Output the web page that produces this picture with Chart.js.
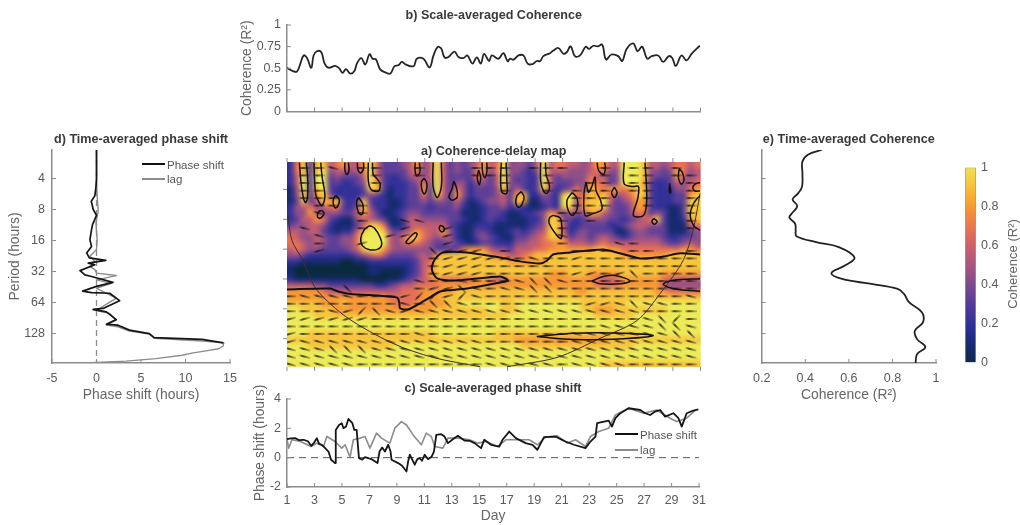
<!DOCTYPE html>
<html>
<head>
<meta charset="utf-8">
<title>Coherence-delay map</title>
<script src="https://cdn.jsdelivr.net/npm/chart.js"></script>
<style>
body{ margin:0; background:#fff; width:1020px; height:525px; overflow:hidden; position:relative; font-family:"Liberation Sans",Arial,sans-serif; }
canvas{ position:absolute; filter:blur(0.45px); }
.legtext{ position:absolute; font-size:11.5px; color:#555; line-height:14px; filter:blur(0.3px); }
.legline{ position:absolute; height:2px; }
#cbtitle{ position:absolute; left:960px; top:256px; width:106px; text-align:center; font-size:13px; line-height:16px; color:#666; transform:rotate(-90deg); filter:blur(0.3px); }
</style>
</head>
<body>

<div class="legline" style="left:142px;top:163px;width:23px;background:#111"></div>
<div class="legtext" style="left:167px;top:158px">Phase shift</div>
<div class="legline" style="left:142px;top:178px;width:23px;background:#8c8c8c"></div>
<div class="legtext" style="left:167px;top:172px">lag</div>
<div class="legline" style="left:615px;top:433px;width:23px;background:#111"></div>
<div class="legtext" style="left:640px;top:428px">Phase shift</div>
<div class="legline" style="left:615px;top:449px;width:23px;background:#8c8c8c"></div>
<div class="legtext" style="left:640px;top:443px">lag</div>
<div id="cbtitle">Coherence (R²)</div>

<script>
// ---- tick labels
var dayTicksStep = 2;
var octaveTicks = [2, 3, 4, 5, 6, 7];          // log2 of period, 4h .. 128h
var octaveMin = 1.08, octaveMax = 7.95;

// ---- b) scale-averaged coherence
var bDays = [1,1.36,1.72,1.97,2.21,2.45,2.76,2.93,3.17,3.49,3.73,4.02,4.5,4.79,5.03,5.28,5.59,5.9,6.07,6.39,6.68,6.99,7.21,7.45,7.76,8.13,8.49,8.8,9.09,9.33,9.62,10.18,10.42,10.9,11.34,11.63,11.92,12.18,12.43,12.71,13.15,13.44,13.8,14.09,14.45,14.77,15.06,15.3,15.66,15.86,16.34,16.7,17.01,17.18,17.43,17.79,18.15,18.46,18.8,19.12,19.36,19.6,20.08,20.32,20.69,21.05,21.29,21.58,21.89,22.26,22.67,22.91,23.22,23.54,23.87,24.14,24.55,25.03,25.32,25.64,26.12,26.43,26.77,27.13,27.45,27.93,28.29,28.7,28.95,29.21,29.62,29.99,30.35,30.95];
var bCoherence = [.506,.472,.461,.554,.648,.618,.506,.648,.697,.685,.554,.506,.528,.498,.446,.491,.438,.472,.554,.618,.543,.663,.61,.603,.487,.453,.438,.524,.536,.573,.543,.524,.61,.61,.509,.648,.745,.73,.625,.629,.693,.629,.618,.648,.554,.625,.554,.667,.584,.648,.61,.674,.581,.61,.599,.648,.648,.554,.547,.584,.581,.64,.674,.704,.734,.667,.685,.753,.64,.648,.749,.723,.76,.753,.772,.603,.659,.64,.584,.723,.787,.697,.749,.61,.64,.648,.573,.64,.618,.528,.648,.592,.667,.76];

// ---- c) scale-averaged phase shift
var cShiftDays = [1,1.29,1.6,1.89,2.21,2.52,2.76,2.98,3.17,3.34,3.54,3.78,4.02,4.21,4.5,4.55,4.79,4.99,5.11,5.3,5.47,5.76,5.9,6.07,6.24,6.48,6.68,6.97,7.16,7.59,7.74,7.93,8.13,8.37,8.54,8.61,9.09,9.38,9.7,9.82,9.94,10.3,10.49,10.66,10.83,11.02,11.27,11.51,11.7,11.87,12.23,12.47,12.72,13.08,13.44,13.92,14.29,14.65,15.13,15.36,15.85,16.45,16.69,17.18,17.66,18.38,18.87,19.23,19.71,20.56,20.92,21.28,21.89,22.73,23.09,23.46,23.58,24.42,24.66,24.91,25.27,25.87,26.72,27.08,27.44,27.8,28.17,28.53,29.13,29.5,29.74,30.1,30.58,30.95];
var cShift = [1.26,1.31,1.33,1.19,1.22,1.12,.81,1.03,1.33,.94,.88,.65,.42,-.14,-.37,1.89,2.23,2.35,2.01,2.12,2.64,2.35,1.89,1.89,-.03,-.14,.04,-.05,-.1,-.37,.42,.69,.42,.88,.42,-.14,-.37,-.55,-.94,-.26,.2,-.48,-.1,-.03,-.21,.2,-.1,.04,.42,1.55,1.6,1.44,.99,1.26,1.49,1.17,1.15,.99,.65,1.22,.88,.76,1.22,1.78,1.33,.99,.88,.54,1.4,1.44,1.26,1.1,.88,.65,1.1,1.44,2.35,2.53,2.12,2.69,3.03,3.37,3.25,3.03,2.91,3.14,3.25,2.8,3.03,2.69,2.12,3.03,3.21,3.3];
var cLagDays = [1,1.12,1.36,1.97,2.76,3.17,3.66,3.9,4.5,4.99,5.23,5.59,5.83,6.31,6.68,7.04,7.52,7.88,8.49,8.85,9.33,9.7,10.18,10.78,11.14,11.51,11.75,12.35,12.72,13.44,14.29,14.89,15.49,16.33,16.93,17.78,18.63,19.23,19.83,20.68,21.4,22.01,22.73,23.09,23.7,24.42,24.91,25.87,26.96,27.92,28.89,29.37,30.1,30.82];
var cLag = [1.26,.65,1.22,1.1,.76,.99,.76,1.44,1.1,.65,.88,.04,1.22,1.33,1.44,.65,1.67,1.33,.99,2.01,2.46,2.23,1.55,.88,1.67,1.44,.76,.65,1.33,1.33,1.22,.99,1.1,.76,1.22,1.22,1.22,.88,1.4,1.49,.99,1.22,.76,1.44,1.78,2.01,2.91,3.37,3.03,3.25,2.69,2.46,2.69,3.3];

// ---- d) time-averaged phase shift
var dShiftOctave = [1.05,1.48,2,2.29,2.56,2.73,3,3.19,3.48,3.65,3.97,4.19,4.4,4.56,4.64,4.73,4.78,4.97,5.11,5.16,5.35,5.48,5.63,5.68,5.7,5.94,6.19,6.22,6.3,6.55,6.7,6.73,6.89,7,7.13,7.19,7.3];
var dShift = [0,0,0,-.07,-.19,-.59,-.37,0,-.44,-.56,-.74,-.56,-1.11,-.81,1.04,-.93,-.19,-1.85,-1.3,-.56,1.85,0,-1.56,-.56,1.48,2.59,.74,-.37,1.11,2.22,1.11,2.41,3.7,5.93,6.48,11.85,14.26];
var dLagOctave = [1.05,2,2.56,3.05,3.43,3.97,4.29,4.51,4.67,4.84,4.94,5.05,5.13,5.27,5.38,5.54,5.86,6.19,6.24,6.35,6.57,6.73,6.78,6.92,7.02,7.15,7.24,7.3,7.41,7.49,7.56,7.63,7.7,7.81,7.89,7.93,7.97];
var dLag = [0,0,.07,.19,-.07,.07,0,-.74,-.19,-.74,-.19,0,2.22,0,1.67,0,2.22,.37,-.37,1.48,2.22,1.11,2.41,3.7,5.93,6.48,11.85,14.3,14.2,13.7,12.3,10.7,9.63,6.67,3.33,0,-3.7];

// ---- e) time-averaged coherence
var eOctave = [1.07,1.23,1.45,1.83,2.26,2.48,2.67,2.89,3.13,3.26,3.45,3.67,3.86,4.05,4.21,4.55,4.8,5.05,5.24,5.4,5.56,5.72,5.99,6.32,6.64,6.91,7.18,7.43,7.67,7.97];
var eCoherence = [.477,.412,.387,.387,.385,.367,.342,.363,.338,.327,.353,.356,.36,.45,.554,.626,.584,.52,.569,.704,.824,.853,.876,.936,.94,.903,.913,.951,.913,.906];

// ---- a) coherence map, one digit per cell (0..9 = 0..1), rows run from short to long period
var coherenceRows = [
"2683885675 5796333457 4595343457 5694443595 6655457755 9998554566 56",
"2683894554 5695333356 4595343367 4694432495 5544456644 9998443476 45",
"2593993433 3596322345 4595333365 3594332395 3444465534 9998433375 45",
"2593993322 3497322234 6495344244 3594332395 3334476634 9997322354 56",
"1493893222 2388312233 7395364233 3483532384 2346487677 6788322244 67",
"1483784222 2343212233 6385374233 3453782243 2896687864 5688322233 78",
"1383587832 3832211233 4344353123 4453871133 2994788953 4577322233 88",
"2456456632 4842211233 3233342112 3342321123 2884788843 3477322113 88",
"2447544433 5753112344 3333331112 3321122347 6354477543 3466343113 88",
"2355763211 4554311355 4444332112 3221112248 8432344433 2345683112 78",
"3445542111 3588621255 5555321122 2111112348 8522333322 3455443111 56",
"5545532122 5899843457 6557421133 2112323458 8523433331 1344333111 34",
"6544543344 6999954688 6545421134 3211334568 8634434543 2344443223 34",
"6654543344 6999954566 5433432123 3222445566 7755545655 5555554334 54",
"5654433334 5899754444 4433336777 5443555667 7777778877 6666666667 76",
"4432222222 3456533334 5478888888 7665567888 8888888888 7777777888 88",
"2211111100 1122222223 5688888888 8887777778 8888888888 8888888888 88",
"1000000000 0011111123 5688888888 8888888888 8888888888 8888888888 88",
"1000000000 0011000123 5788888888 8888888887 7788877777 8888887777 77",
"2111111111 1000011234 5676666677 6557777777 7777776556 7777776555 55",
"5555443333 3332234556 6667777777 7777777777 7777776666 7777775444 44",
"7777765555 5555555666 7777788888 8888888888 8887788888 8888877666 66",
"7777777777 7777766666 7778888888 8888888888 8888888888 8888888888 88",
"8888877787 7777776667 7777889999 9988999999 9999888888 8999999999 99",
"9988888777 7777777777 7788888888 9988899999 9999887778 8888888999 99",
"9999888888 8888888888 8888888888 8889999999 9999998888 8899999999 99",
"9999999999 9999999999 9999999999 9999999999 9999999999 9999999999 99",
"9999999999 9999999999 9999999999 9999999999 9999999999 9999999999 99",
"9998888888 8888888888 8899999999 9888888888 8888888888 8889999999 99",
"8888888888 8888888888 8888888888 8888777777 7777777788 8888888888 88",
"9998888888 8888889999 9999999999 9999988888 8888888888 8899999999 99",
"9999999999 9999999999 9999999999 9999999999 9999999999 9999999999 99",
"9999999999 9999999999 9999999999 9999999999 9999999999 9999999999 99",
"9999999999 9999999999 9999999999 9999999999 9999999888 8888888888 88"
];

// colormap stops
var cmapStops = [0, .1, .2, .3, .4, .5, .6, .7, .8, .9, 1];
var cmapColors = ["#0a2a3f","#152a6c","#2b2f98","#503a9a","#7a4a90","#a9567f","#d0606a","#ee7a4a","#f8a030","#f6c840","#ecea58"];

// ---- phase arrows: f flat, d/D tilted down, u/U tilted up, . none
var arrowTilt = { f: 0, d: 15, D: 45, u: -15, U: -45 };
var arrowDays = [1.22,2.26,3.3,4.33,5.37,6.41,7.45,8.48,9.52,10.56,11.6,12.63,13.67,14.71,15.75,16.79,17.82,18.86,19.9,20.94,21.98,23.01,24.05,25.09,26.13,27.16,28.2,29.24,30.28];
var arrowOctaves = [1.28,1.53,1.78,2.04,2.29,2.54,2.79,3.05,3.3,3.55,3.81,4.06,4.31,4.57,4.82,5.07,5.32,5.58,5.83,6.08,6.34,6.59,6.84,7.1,7.35,7.6,7.86];
var arrowRows = [
".ffd.ff..f ...fff.fff ..f.ff.f.",
".ff...f..f ...fff..f. ..f.ff.ff",
".ff...f... .....f..f. .ff.ff..f",
".ff...f... .....f..f. fff.ff..f",
".fff...... .......... fff..f..f",
"..ff.f.... .......... fff..f..f",
"..d..f.... .........f ff......f",
".....f..dd .........f .f......f",
".d...f..u. .u.......f ........f",
"..d....uu. .u.......d .........",
"..f..u.... .u.......f ...df....",
"..u....... Duuu.f.... fff.ff..f",
".......... fuuuuufdff uffffffff",
".......... fuuuffffff fffffffff",
".......... fuuuffffff uufuDffff",
".........d ffdfffdDDd fffffffff",
"....D....f uuDdfddDDf fffffffff",
"fddddfffuU UuUdffffff ffffffffd",
"ffffffffdf DDdfffffff fuudDddff",
"fffduUDdud dddddddddd dddddffff",
"uuuuuuffff ffffffffff fffffdDUf",
"ffffffffff ffffffffff ffddddDDd",
"uffffffffd ffffffffff dddddddDD",
"uddddddddd ddddffffff ddddddddd",
"dddDDDdddd dddddddddd ddddddddd",
"dddddddddd dddddddddd ddddddddd",
"dddddfffff ffffdddddf ddddfffff"
];

// ---- contours [day, octave]
var mainContour = [[1,5.35],[4.12,5.32],[4.7,5.42],[5.57,5.5],[8.98,5.62],[9.15,5.8],[9.2,5.98],[9.78,6.02],[11,5.72],[12.1,5.42],[12.61,5.38],[14.06,5.32],[16.46,5.12],[17.04,5.05],[16.46,4.92],[13.34,5.05],[11.89,4.98],[11.52,4.71],[11.6,4.45],[11.89,4.25],[12.32,4.11],[14.06,4.11],[16.46,4.28],[17.91,4.41],[19.36,4.48],[19.87,4.38],[20.3,4.18],[21.54,4.11],[23.93,4.01],[25.17,4.14],[26.62,4.31],[28.29,4.25],[29.52,4.14],[30.97,4.18]];
var smallContours = [
[[1.9,1.1],[2,1.7],[2.2,2.3],[2.35,2.44],[2.5,2.2],[2.5,1.6],[2.4,1.1]],
[[2.96,1.1],[3,1.7],[3.1,2.2],[3.35,2.45],[3.55,2.54],[3.75,2.2],[3.55,1.6],[3.45,1.1]],
[[5.2,1.1],[5.2,1.35],[5.35,1.5],[5.5,1.35],[5.45,1.1]],
[[6.1,1.1],[6.15,1.35],[6.35,1.45],[6.55,1.3],[6.55,1.1]],
[[6.9,1.1],[6.9,1.7],[7.1,2],[7.65,2.05],[7.75,1.8],[7.45,1.6],[7.25,1.5],[7.2,1.1]],
[[10.3,1.1],[10.3,1.4],[10.45,1.55],[10.65,1.4],[10.6,1.1]],
[[10.95,1.62],[11.15,1.8],[11.1,2.05],[10.95,2.15],[10.78,2],[10.75,1.75],[10.95,1.62]],
[[11.6,1.1],[11.6,1.9],[11.9,2.27],[12.2,1.9],[12.2,1.1]],
[[13.1,1.72],[12.95,2],[12.75,2.25],[13,2.36],[13.35,2.25],[13.3,1.95],[13.1,1.72]],
[[14.9,1.35],[15.05,1.6],[14.95,1.85],[14.8,1.6],[14.9,1.35]],
[[15.15,1.1],[15.2,1.45],[15.35,1.6],[15.5,1.4],[15.5,1.1]],
[[4.55,2.2],[4.8,2.35],[4.7,2.55],[4.5,2.62],[4.35,2.45],[4.4,2.28],[4.55,2.2]],
[[6.2,2.27],[6.5,2.5],[6.5,2.8],[6.3,2.84],[6.1,2.65],[6.05,2.4],[6.2,2.27]],
[[3.5,2.7],[3.7,2.8],[3.4,2.97],[3.2,2.9],[3.3,2.75],[3.5,2.7]],
[[7,3.21],[7.35,3.3],[7.75,3.6],[7.87,3.85],[7.6,4],[7,4.02],[6.5,3.9],[6.35,3.65],[6.6,3.35],[7,3.21]],
[[9.6,3.78],[9.9,3.6],[10.3,3.45],[10.45,3.5],[10.2,3.7],[9.85,3.82],[9.6,3.78]],
[[12.1,3.2],[12.35,3.25],[12.4,3.38],[12.2,3.42],[12.05,3.32],[12.1,3.2]],
[[16.55,1.1],[16.5,1.7],[16.6,2.1],[16.95,2.13],[16.95,1.7],[16.9,1.1]],
[[18,2.07],[18.2,2.25],[18.05,2.5],[17.8,2.6],[17.6,2.45],[17.7,2.2],[18,2.07]],
[[19.4,1.1],[19.4,1.7],[19.6,2.05],[19.85,2.13],[20.05,1.9],[19.8,1.5],[19.75,1.1]],
[[21.7,2.1],[22.05,2.3],[22.05,2.65],[21.7,2.87],[21.4,2.7],[21.32,2.35],[21.7,2.1]],
[[22.7,1.75],[22.87,2.09],[23.1,1.92],[23.35,1.59],[23.42,2.03],[23.75,2.37],[23.83,2.68],[23.2,2.81],[22.63,2.87],[22.55,2.13],[22.7,1.75]],
[[23.5,1.1],[23.6,1.35],[23.95,1.5],[24.1,1.3],[24.05,1.1]],
[[24.75,1.93],[24.95,2.1],[24.75,2.27],[24.55,2.1],[24.75,1.93]],
[[25.46,1.1],[25.46,1.81],[26.1,1.9],[26.5,1.9],[26.45,2.3],[26.13,2.87],[26.86,2.87],[27.1,2.37],[26.98,1.1]],
[[20.3,2.87],[20.8,2.95],[20.93,3.2],[20.9,3.64],[20.6,3.55],[20.03,3.15],[20.05,2.95],[20.3,2.87]],
[[27.6,2.97],[27.85,3.07],[27.65,3.17],[27.47,3.07],[27.6,2.97]],
[[29.45,1.3],[29.7,1.45],[29.8,1.7],[29.6,1.82],[29.4,1.6],[29.45,1.3]],
[[30.97,1.77],[30.6,1.82],[30.45,1.95],[30.6,2.05],[30.97,2.05]],
[[30.97,2.2],[30.5,2.47],[30.25,2.87],[30.5,3.21],[30.97,3.37]],
[[28.75,1.8],[28.85,2.1],[28.75,2.1],[28.75,1.8]],
[[23.11,5.07],[23.95,4.92],[24.8,4.88],[25.89,5.07],[25.17,5.16],[23.71,5.16],[23.11,5.07]],
[[30.97,4.99],[29.28,5.03],[28.31,5.16],[28.6,5.27],[29.52,5.36],[30.97,5.41]],
[[19.12,6.93],[21.78,6.82],[25.41,6.82],[27.58,6.9],[25.41,7],[21.78,7.03],[19.12,6.93]]
];
// cone of influence
var coiLeft = [[1.07,2.87],[1.36,3.71],[2.16,4.38],[2.45,4.71],[3.18,5.38],[5.35,6.29],[8.69,7.16],[11.6,7.63],[15,7.94]];
var coiRight = [[16.97,7.94],[20.59,7.63],[23.71,6.99],[26.4,6.39],[28.07,5.49],[29.74,4.38],[30.46,3.37],[30.97,2.13]];

// ---------------------------------------------------------------------------
Chart.defaults.font.family = '"Liberation Sans", Arial, sans-serif';
Chart.defaults.animation = false;
Chart.defaults.plugins.legend.display = false;
Chart.defaults.plugins.tooltip.enabled = false;

var axisGrey = "#8c8c8c", textGrey = "#5a5a5a";

function hexRgb(h){ return [parseInt(h.substr(1,2),16), parseInt(h.substr(3,2),16), parseInt(h.substr(5,2),16)]; }
function cmap(v){
    for (var i = 1; i < cmapStops.length; i++) {
        if (v <= cmapStops[i]) {
            var t = (v - cmapStops[i-1]) / (cmapStops[i] - cmapStops[i-1]);
            var a = hexRgb(cmapColors[i-1]), b = hexRgb(cmapColors[i]);
            return [a[0]+(b[0]-a[0])*t, a[1]+(b[1]-a[1])*t, a[2]+(b[2]-a[2])*t];
        }
    }
    return hexRgb(cmapColors[cmapColors.length-1]);
}

// small tick marks, matlab style. dir -1 points into the plot, +1 out of it
var tickMarks = {
    id: "tickMarks",
    afterDraw: function(chart, args, opts) {
        var ctx = chart.ctx, area = chart.chartArea;
        ctx.save();
        ctx.strokeStyle = axisGrey;
        ctx.lineWidth = 1;
        (opts.marks || []).forEach(function(m) {
            var scale = chart.scales[m.axis];
            scale.ticks.forEach(function(t, i) {
                var p = scale.getPixelForTick(i);
                ctx.beginPath();
                if (m.side == "bottom") { ctx.moveTo(p, area.bottom); ctx.lineTo(p, area.bottom + m.dir * 4); }
                if (m.side == "top") { ctx.moveTo(p, area.top); ctx.lineTo(p, area.top - m.dir * 4); }
                if (m.side == "left") { ctx.moveTo(area.left, p); ctx.lineTo(area.left - m.dir * 4, p); }
                ctx.stroke();
            });
        });
        ctx.restore();
    }
};
Chart.register(tickMarks);

// draws the coherence cells under the datasets, placed by the chart's scales
var heatLayer = {
    id: "heatLayer",
    beforeDatasetsDraw: function(chart) {
        var rows = coherenceRows.map(function(r){ return r.replace(/ /g, ""); });
        var off = document.createElement("canvas");
        off.width = rows[0].length; off.height = rows.length;
        var octx = off.getContext("2d"), img = octx.createImageData(off.width, off.height);
        rows.forEach(function(r, j) {
            for (var i = 0; i < r.length; i++) {
                var c = cmap(Number(r[i]) / 9), k = (j * off.width + i) * 4;
                img.data[k] = c[0]; img.data[k+1] = c[1]; img.data[k+2] = c[2]; img.data[k+3] = 255;
            }
        });
        octx.putImageData(img, 0, 0);
        var x0 = chart.scales.x.getPixelForValue(1), x1 = chart.scales.x.getPixelForValue(31);
        var y0 = chart.scales.y.getPixelForValue(octaveMin), y1 = chart.scales.y.getPixelForValue(octaveMax);
        var ctx = chart.ctx;
        ctx.save();
        ctx.beginPath(); ctx.rect(x0, y0, x1 - x0, y1 - y0); ctx.clip();
        ctx.imageSmoothingEnabled = true;
        ctx.imageSmoothingQuality = "high";
        ctx.drawImage(off, x0, y0, x1 - x0, y1 - y0);
        ctx.filter = "blur(1.5px)";
        ctx.drawImage(off, x0, y0, x1 - x0, y1 - y0);
        ctx.restore();
    }
};

function xy(xs, ys){ return xs.map(function(x, i){ return { x: x, y: ys[i] }; }); }
function pairs(list){ return list.map(function(p){ return { x: p[0], y: p[1] }; }); }
function tickText(v){ return String(+v.toFixed(2)); }
function periodText(v){ return String(Math.pow(2, v)); }
function setOctaveTicks(scale){ scale.ticks = octaveTicks.map(function(v){ return { value: v }; }); }

function lineSet(data, color, width, tension, dash){
    return { data: data, showLine: true, pointRadius: 0, borderColor: color, borderWidth: width, tension: tension || 0, borderDash: dash || [], borderJoinStyle: "round" };
}

function addCanvas(left, top, width, height){
    var c = document.createElement("canvas");
    c.width = width; c.height = height;
    c.style.left = left + "px"; c.style.top = top + "px";
    document.body.appendChild(c);
    return c;
}

function panelTitle(text, gap){
    return { display: true, text: text, color: "#3a3a3a", fullSize: false, padding: { top: 0, bottom: gap },
             font: { size: 12.6, weight: "bold", lineHeight: "14px" } };
}

function valueAxis(extra){
    var a = {
        type: "linear",
        grid: { display: false, drawTicks: false },
        border: { color: axisGrey, width: 1.5 },
        ticks: { color: textGrey, font: { size: 12.5 }, maxRotation: 0, autoSkip: false, callback: tickText, padding: 6 }
    };
    for (var k in extra) a[k] = extra[k];
    return a;
}

function axisName(text){
    return { display: true, text: text, color: "#666", padding: 0, font: { size: 13.9, lineHeight: 1.2 } };
}

// b) scale-averaged coherence
new Chart(addCanvas(239, 9, 473, 116), {
    type: "scatter",
    data: { datasets: [ lineSet(xy(bDays, bCoherence), "#262626", 1.8, .4) ] },
    options: {
        responsive: false,
        layout: { padding: { right: 11.5 } },
        plugins: {
            title: panelTitle("b) Scale-averaged Coherence", 2),
            tickMarks: { marks: [ { axis: "x", side: "bottom", dir: -1 }, { axis: "y", side: "left", dir: -1 } ] }
        },
        scales: {
            x: valueAxis({ min: 1, max: 31, afterFit: function(s){ s.height = 10.5; },
                ticks: { display: false, stepSize: dayTicksStep, autoSkip: false } }),
            y: valueAxis({ min: 0, max: 1, afterFit: function(s){ s.width = 48; }, title: axisName("Coherence (R²)"),
                ticks: { color: textGrey, font: { size: 12.5 }, stepSize: .25, callback: tickText, padding: 6 } })
        }
    }
});

// c) scale-averaged phase shift
new Chart(addCanvas(252, 382, 460, 143), {
    type: "scatter",
    data: { datasets: [
        lineSet(xy(cShiftDays, cShift), "#161616", 1.8),
        lineSet(xy(cLagDays, cLag), "#8c8c8c", 1.6),
        lineSet([{ x: 1, y: 0 }, { x: 31, y: 0 }], "#555", 1, 0, [7, 5])
    ] },
    options: {
        responsive: false,
        layout: { padding: { right: 11 } },
        plugins: {
            title: panelTitle("c) Scale-averaged phase shift", 3),
            tickMarks: { marks: [ { axis: "x", side: "bottom", dir: -1 }, { axis: "y", side: "left", dir: -1 } ] }
        },
        scales: {
            x: valueAxis({ min: 1, max: 31, afterFit: function(s){ s.height = 38; }, title: axisName("Day"),
                ticks: { color: textGrey, font: { size: 12.5 }, stepSize: dayTicksStep, autoSkip: false, maxRotation: 0, callback: tickText, padding: 6 } }),
            y: valueAxis({ min: -2, max: 4, afterFit: function(s){ s.width = 35; }, title: axisName("Phase shift (hours)"),
                ticks: { color: textGrey, font: { size: 12.5 }, stepSize: 2, callback: tickText, padding: 6 } })
        }
    }
});

// d) time-averaged phase shift
new Chart(addCanvas(7, 133, 238, 271), {
    type: "scatter",
    data: { datasets: [
        lineSet(xy(dShift, dShiftOctave), "#151515", 1.7),
        lineSet(xy(dLag, dLagOctave), "#8c8c8c", 1.4),
        lineSet([{ x: 0, y: octaveMin }, { x: 0, y: octaveMax }], "#8c8c8c", 1.3, 0, [6, 4])
    ] },
    options: {
        responsive: false,
        layout: { padding: { right: 13 } },
        plugins: {
            title: panelTitle("d) Time-averaged phase shift", 3),
            tickMarks: { marks: [ { axis: "x", side: "bottom", dir: -1 }, { axis: "y", side: "left", dir: -1 } ] }
        },
        scales: {
            x: valueAxis({ min: -5, max: 15, afterFit: function(s){ s.height = 41; }, title: axisName("Phase shift (hours)"),
                ticks: { color: textGrey, font: { size: 12.5 }, stepSize: 5, autoSkip: false, maxRotation: 0, callback: tickText, padding: 8 } }),
            y: valueAxis({ min: octaveMin, max: octaveMax, reverse: true, afterFit: function(s){ s.width = 45; },
                afterBuildTicks: setOctaveTicks, title: axisName("Period (hours)"),
                ticks: { color: textGrey, font: { size: 12.5 }, callback: periodText, padding: 7 } })
        }
    }
});

// e) time-averaged coherence
new Chart(addCanvas(745, 133, 205, 271), {
    type: "scatter",
    data: { datasets: [ lineSet(xy(eCoherence, eOctave), "#222", 1.8, .4) ] },
    options: {
        responsive: false,
        layout: { padding: { right: 14 } },
        plugins: {
            title: panelTitle("e) Time-averaged Coherence", 3),
            tickMarks: { marks: [ { axis: "x", side: "bottom", dir: -1 }, { axis: "y", side: "left", dir: -1 } ] }
        },
        scales: {
            x: valueAxis({ min: .2, max: 1, afterFit: function(s){ s.height = 41; }, title: axisName("Coherence (R²)"),
                ticks: { color: textGrey, font: { size: 12.5 }, stepSize: .2, autoSkip: false, maxRotation: 0, callback: tickText, padding: 8 } }),
            y: valueAxis({ min: octaveMin, max: octaveMax, reverse: true, afterFit: function(s){ s.width = 12.7; },
                afterBuildTicks: setOctaveTicks, ticks: { display: false } })
        }
    }
});

// a) coherence-delay map
var arrowImage = document.createElement("canvas");
arrowImage.width = 12; arrowImage.height = 4;
(function(){
    var c = arrowImage.getContext("2d");
    c.fillStyle = "rgba(20,20,20,.8)";
    c.beginPath(); c.moveTo(0, 2); c.lineTo(4, .9); c.lineTo(12, 1.7); c.lineTo(12, 2.3); c.lineTo(4, 3.1); c.closePath(); c.fill();
})();

var arrowPoints = [], arrowRotation = [];
arrowRows.forEach(function(row, k) {
    row.replace(/ /g, "").split("").forEach(function(ch, m) {
        if (ch != ".") {
            arrowPoints.push({ x: arrowDays[m], y: arrowOctaves[k] });
            arrowRotation.push(arrowTilt[ch]);
        }
    });
});

var mapSets = [ lineSet(pairs(mainContour), "#141010", 2, .25) ];
smallContours.forEach(function(c){ mapSets.push(lineSet(pairs(c), "#141010", 1.5, .35)); });
mapSets.push(lineSet(pairs(coiLeft), "#3a3030", 1, .3));
mapSets.push(lineSet(pairs(coiRight), "#3a3030", 1, .3));
mapSets.push({ data: arrowPoints, pointStyle: arrowImage, pointRotation: arrowRotation, pointRadius: 2, showLine: false });

new Chart(addCanvas(280, 145, 428, 230), {
    type: "scatter",
    data: { datasets: mapSets },
    plugins: [ heatLayer ],
    options: {
        responsive: false,
        layout: { padding: { right: 7.5 } },
        plugins: {
            title: panelTitle("a) Coherence-delay map", 3),
            tickMarks: { marks: [ { axis: "x", side: "bottom", dir: 1 }, { axis: "x", side: "top", dir: 1 }, { axis: "y", side: "left", dir: 1 } ] }
        },
        scales: {
            x: valueAxis({ min: 1, max: 31, border: { display: false }, afterFit: function(s){ s.height = 8; },
                ticks: { display: false, stepSize: dayTicksStep, autoSkip: false } }),
            y: valueAxis({ min: octaveMin, max: octaveMax, reverse: true, border: { display: false }, afterFit: function(s){ s.width = 7; },
                afterBuildTicks: setOctaveTicks, ticks: { display: false } })
        }
    }
});

// colorbar
var cbCanvas = addCanvas(965, 155, 55, 220);
var cbCtx = cbCanvas.getContext("2d");
var cbGradient = cbCtx.createLinearGradient(0, 213, 0, 7);
cmapStops.forEach(function(s, i){ cbGradient.addColorStop(s, cmapColors[i]); });
new Chart(cbCanvas, {
    type: "bar",
    data: { labels: [""], datasets: [ { data: [1], backgroundColor: cbGradient, borderColor: "#a3a36a", borderWidth: 1, barPercentage: 1, categoryPercentage: 1 } ] },
    options: {
        responsive: false,
        layout: { padding: { top: 7, bottom: 7 } },
        scales: {
            x: { display: false },
            y: { position: "right", min: 0, max: 1, afterFit: function(s){ s.width = 44; },
                 grid: { display: false, drawTicks: false }, border: { display: false },
                 ticks: { color: textGrey, font: { size: 12.5 }, stepSize: .2, callback: tickText, padding: 5 } }
        }
    }
});
</script>
</body>
</html>
